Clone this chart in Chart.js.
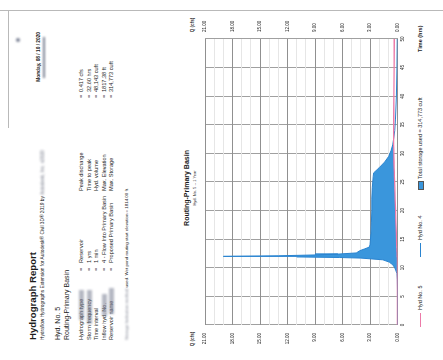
<!DOCTYPE html>
<html>
<head>
<meta charset="utf-8">
<script src="https://cdn.jsdelivr.net/npm/chart.js@4.4.1/dist/chart.umd.min.js"></script>
<style>
  html, body { margin: 0; padding: 0; background: #fff; overflow: hidden; width: 443px; height: 360px; }
  /* the report page is laid out portrait and turned a quarter turn */
  #page {
    position: absolute; left: 0; top: 0; width: 360px; height: 443px;
    transform-origin: 0 0; transform: translate(0, 360px) rotate(-90deg);
    background: #fff; font-family: "Liberation Sans", Arial, sans-serif; color: #1c1c1c;
  }
  .t { position: absolute; white-space: nowrap; line-height: 1; }
  .b { font-weight: bold; }
  .smudge { filter: blur(1.1px); color: #6d7282; }
  .rule { position: absolute; background: #b9b9b9; }
  #hydro { position: absolute; left: 0; top: 180px; }
  .sym { position: absolute; }
</style>
</head>
<body>
<div id="page">
  <div class="rule" style="left:349px; top:0; width:1px; height:443px;"></div>
  <div class="rule" style="left:232px; top:8px; width:118px; height:1px;"></div>
  <div class="t smudge" style="left:318px; top:16px; width:4px; height:4px; background:#7a8194; border-radius:2px;"></div>

  <div class="t b" style="left:20px; top:28px; font-size:9.6px;">Hydrograph Report</div>
  <div class="t" style="left:20px; top:41px; font-size:4.8px;">Hydraflow Hydrographs Extension for Autodesk® Civil 3D® 2019 by <span class="smudge">Autodesk, Inc. v2020</span></div>
  <div class="t b" style="right:32px; top:36.5px; font-size:4.8px;">Monday, 08 / 10 / 2020</div>
  <div class="t smudge" style="left:282px; top:42.5px; width:41px; height:2.5px; background:#7d8496;"></div>

  <div class="t" style="left:20px; top:53.5px; font-size:7px;">Hyd. No. 5</div>
  <div class="t" style="left:20px; top:62.5px; font-size:7px;">Routing-Primary Basin</div>

  <div id="params"></div>

  <div class="t" style="left:20px; top:125px; font-size:4.4px;"><span class="smudge">Storage Indication method</span> used. Wet pond routing start elevation = 1814.00 ft.</div>

  <div class="t b" style="left:172px; top:183px; font-size:7px; transform:translateX(-50%);">Routing-Primary Basin</div>
  <div class="t" style="left:172px; top:193px; font-size:4px; transform:translateX(-50%);">Hyd. No. 5 -- 1 Year</div>

  <div class="t b" style="left:21px; top:190.5px; font-size:4.6px; transform:translateX(-50%);">Q (cfs)</div>
  <div class="t b" style="left:335px; top:190.5px; font-size:4.6px; transform:translateX(-50%);">Q (cfs)</div>

  <canvas id="hydro" width="360" height="232"></canvas>

  <div class="t b" style="left:308px; top:417.5px; font-size:5.5px;">Time (hrs)</div>
  <div id="legend"></div>
</div>

<script>
// Report parameters
const leftLabels  = ["Hydrograph type", "Storm frequency", "Time interval", "Inflow hyd. No.", "Reservoir name"];
const leftValues  = ["Reservoir", "1 yrs", "1 min", "4 - Flow Into Primary Basin", "Proposed Primary Basin"];
const rightLabels = ["Peak discharge", "Time to peak", "Hyd. volume", "Max. Elevation", "Max. Storage"];
const rightValues = ["0.417 cfs", "32.60 hrs", "48,143 cuft", "1817.38 ft", "314,773 cuft"];

// Hydrograph ordinates (hrs, cfs)
const timeHrs    = [0, 6, 8, 9, 9.6, 10, 10.5, 11, 11.4, 11.7, 11.8, 11.9, 12.0, 12.1, 12.25, 12.4, 12.6, 13.0, 13.3, 13.6, 14, 16, 18, 20, 22, 24, 25, 26, 26.6, 27.5, 28.5, 29.5, 30.5, 31.5, 32.6, 34, 36, 40, 45, 50];
const inflowCfs  = [0, 0, 0.02, 0.06, 0.2, 0.3, 0.5, 0.9, 1.6, 4.0, 6.3, 11.0, 19.0, 13.0, 9.0, 6.5, 4.5, 4.1, 3.6, 3.1, 3.0, 2.9, 2.85, 2.8, 2.8, 2.75, 2.7, 2.65, 2.6, 2.0, 1.4, 0.95, 0.7, 0.52, 0.417, 0.3, 0.22, 0.12, 0.06, 0.03];
const outflowCfs = [0, 0, 0, 0, 0, 0, 0.005, 0.01, 0.015, 0.02, 0.02, 0.025, 0.03, 0.035, 0.04, 0.045, 0.05, 0.06, 0.065, 0.07, 0.09, 0.13, 0.17, 0.21, 0.25, 0.29, 0.31, 0.33, 0.34, 0.36, 0.38, 0.395, 0.405, 0.413, 0.417, 0.415, 0.41, 0.395, 0.375, 0.355];

// Axis settings
const timeMax = 50, timeStep = 5;
const qMax = 21, qMajorStep = 3;

const legendItems = [
  { text: "Hyd No. 5", kind: "line", color: "#ec7aa8", symLeft: 33, textLeft: 50 },
  { text: "Hyd No. 4", kind: "line", color: "#2a84d0", symLeft: 103, textLeft: 120 },
  { text: "Total storage used = 314,773 cuft", kind: "box", color: "#3a96dc", symLeft: 170, textLeft: 181 }
];

// parameter block
const params = document.getElementById('params');
const pSize = 5.6;
function addText(txt, left, top, size, cls) {
  const d = document.createElement('div');
  d.className = 't' + (cls ? ' ' + cls : '');
  d.style.left = left + 'px'; d.style.top = top + 'px'; d.style.fontSize = size + 'px';
  d.textContent = txt;
  params.appendChild(d);
  return d;
}
for (let i = 0; i < leftLabels.length; i++) {
  const top = 79 + i * 7.5;
  addText(leftLabels[i], 20, top, pSize);
  addText("=", 89, top, pSize);
  addText(leftValues[i], 97, top, pSize);
  addText(rightLabels[i], 169, top, pSize);
  addText("=", 262, top, pSize);
  addText(rightValues[i], 268, top, pSize);
}
// smudged patches over the label column
[[40, 79, 30], [36, 86.5, 34], [44, 101.5, 22], [46, 109, 26]].forEach(([l, t, w]) => {
  const s = addText('', l, t, pSize, 'smudge');
  s.style.width = w + 'px'; s.style.height = '5px'; s.style.background = 'rgba(120,126,145,0.55)';
});

// legend below the plot
const legend = document.getElementById('legend');
legendItems.forEach(it => {
  const s = document.createElement('div');
  s.className = 'sym';
  if (it.kind === 'line') {
    s.style.cssText = `left:${it.symLeft}px; top:419.5px; width:14px; height:1.2px; background:${it.color};`;
  } else {
    s.style.cssText = `left:${it.symLeft}px; top:417.5px; width:7px; height:4px; background:${it.color}; border:0.5px solid #555;`;
  }
  legend.appendChild(s);
  const t = document.createElement('div');
  t.className = 't';
  t.style.cssText = `left:${it.textLeft}px; top:417.5px; font-size:5.5px;`;
  t.textContent = it.text;
  legend.appendChild(t);
});

const font = { family: '"Liberation Sans", Arial, sans-serif', size: 4.5 };
const pts = arr => timeHrs.map((t, i) => ({ x: t, y: arr[i] }));

new Chart(document.getElementById('hydro'), {
  type: 'line',
  data: {
    datasets: [
      {
        label: 'Hyd No. 4', data: pts(inflowCfs),
        borderColor: '#2a84d0', borderWidth: 1, pointRadius: 0, tension: 0,
        fill: { target: 1, above: '#3a96dc', below: 'rgba(0,0,0,0)' }, order: 2
      },
      {
        label: 'Hyd No. 5', data: pts(outflowCfs),
        borderColor: '#ec7aa8', borderWidth: 1.3, pointRadius: 0, tension: 0, fill: false, order: 1
      }
    ]
  },
  options: {
    responsive: false, animation: false, devicePixelRatio: 1,
    layout: { padding: { top: 25, left: 0, right: 0, bottom: 0 } },
    plugins: { legend: { display: false }, tooltip: { enabled: false } },
    scales: {
      x: {
        type: 'linear', min: 0, max: timeMax, position: 'bottom',
        ticks: { stepSize: timeStep, padding: 3, font, color: '#222', maxRotation: 0, autoSkip: false },
        grid: { color: '#a0a0a0', lineWidth: 1, drawTicks: false },
        border: { display: false },
        afterFit(s) { s.height = 14.5; }
      },
      y: {
        type: 'linear', min: 0, max: qMax, position: 'left',
        ticks: { stepSize: 1, padding: 8, font, color: '#222', autoSkip: false,
                 callback: v => (v % qMajorStep === 0 ? v.toFixed(2) : '') },
        grid: { color: c => (c.tick.value % qMajorStep === 0 ? '#909090' : '#e6e6e6'), lineWidth: 1, drawTicks: false },
        border: { display: false },
        afterFit(s) { s.width = 35; }
      },
      y2: {
        type: 'linear', min: 0, max: qMax, position: 'right',
        ticks: { stepSize: 1, padding: 7, font, color: '#222', autoSkip: false,
                 callback: v => (v % qMajorStep === 0 ? v.toFixed(2) : '') },
        grid: { drawOnChartArea: false, drawTicks: false },
        border: { display: false },
        afterFit(s) { s.width = 39; }
      }
    }
  }
});
</script>
</body>
</html>
